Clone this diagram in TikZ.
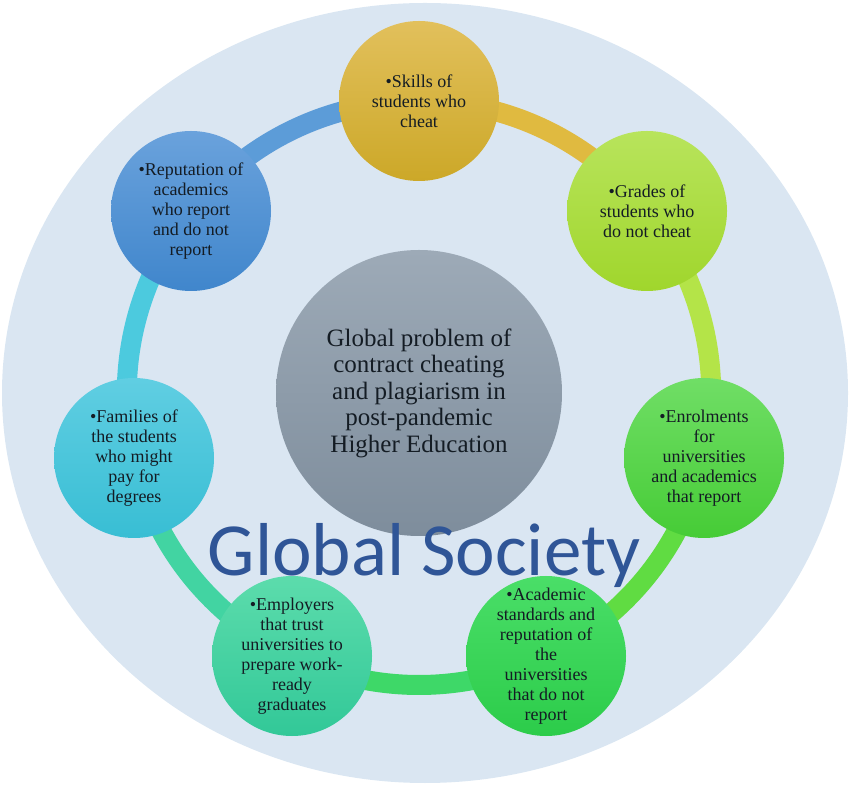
\documentclass[tikz,border=0pt]{standalone}
\usepackage{fontspec}
\setmainfont{Liberation Serif}
\newfontfamily\calibri{Carlito}
\usetikzlibrary{backgrounds}

\definecolor{bgblue}{RGB}{218,230,242}
\definecolor{titleblue}{RGB}{47,85,151}
\definecolor{inktext}{RGB}{20,28,36}

\begin{document}
\begin{tikzpicture}[x=1pt,y=1pt,
  bubble/.style={circle, minimum size=160pt, inner sep=0pt, shading=axis},
  btext/.style={align=center, text=inktext, font=\fontsize{18}{20}\selectfont},
  ring/.style={line width=20pt, bend left=25.7, looseness=0.9}]
  \useasboundingbox (0,0) rectangle (850,789);
  % centre and the seven circles of the ring
  \node[circle, minimum size=286pt, inner sep=0pt, shading=axis,
        top color={rgb,255:red,157;green,170;blue,183},
        bottom color={rgb,255:red,126;green,141;blue,156},
        align=center, text=inktext, font=\fontsize{25}{26.5}\selectfont]
        (centre) at (419,396) {Global problem of\\contract cheating\\and plagiarism in\\post-pandemic\\Higher Education};
  \node[bubble, top color={rgb,255:red,226;green,192;blue,92}, bottom color={rgb,255:red,204;green,168;blue,40},
        label={[btext]center:{•Skills of\\students who\\cheat}}] (skills) at (419,688) {};
  \node[bubble, top color={rgb,255:red,184;green,228;blue,92}, bottom color={rgb,255:red,160;green,214;blue,44},
        label={[btext]center:{•Grades of\\students who\\do not cheat}}] (grades) at (647,578) {};
  \node[bubble, top color={rgb,255:red,112;green,222;blue,102}, bottom color={rgb,255:red,70;green,204;blue,54},
        label={[btext]center:{•Enrolments\\for\\universities\\and academics\\that report}}] (enrol) at (704,331) {};
  \node[bubble, top color={rgb,255:red,74;green,222;blue,104}, bottom color={rgb,255:red,44;green,204;blue,74},
        label={[btext]center:{•Academic\\standards and\\reputation of\\the\\universities\\that do not\\report}}] (academic) at (546,133) {};
  \node[bubble, top color={rgb,255:red,92;green,220;blue,172}, bottom color={rgb,255:red,50;green,200;blue,152},
        label={[btext]center:{•Employers\\that trust\\universities to\\prepare work-\\ready\\graduates}}] (employers) at (292,133) {};
  \node[bubble, top color={rgb,255:red,96;green,206;blue,226}, bottom color={rgb,255:red,56;green,190;blue,212},
        label={[btext]center:{•Families of\\the students\\who might\\pay for\\degrees}}] (families) at (134,331) {};
  \node[bubble, top color={rgb,255:red,106;green,162;blue,220}, bottom color={rgb,255:red,64;green,134;blue,204},
        label={[btext]center:{•Reputation of\\academics\\who report\\and do not\\report}}] (reputation) at (191,578) {};
  \node[font=\calibri\fontsize{75}{75}\selectfont, text=titleblue, anchor=base, inner sep=0pt]
        (society) at (424,213) {Global Society};
  \begin{scope}[on background layer]
    \fill[bgblue] (425,396) ellipse (423 and 390);
    \draw[ring, color={rgb,255:red,224;green,186;blue,64}] (skills.center) to (grades.center);
    \draw[ring, color={rgb,255:red,180;green,228;blue,72}] (grades.center) to (enrol.center);
    \draw[ring, color={rgb,255:red,96;green,220;blue,66}] (enrol.center) to (academic.center);
    \draw[ring, color={rgb,255:red,62;green,216;blue,104}] (academic.center) to (employers.center);
    \draw[ring, color={rgb,255:red,66;green,212;blue,162}] (employers.center) to (families.center);
    \draw[ring, color={rgb,255:red,76;green,202;blue,222}] (families.center) to (reputation.center);
    \draw[ring, color={rgb,255:red,92;green,156;blue,216}] (reputation.center) to (skills.center);
  \end{scope}
\end{tikzpicture}
\end{document}
